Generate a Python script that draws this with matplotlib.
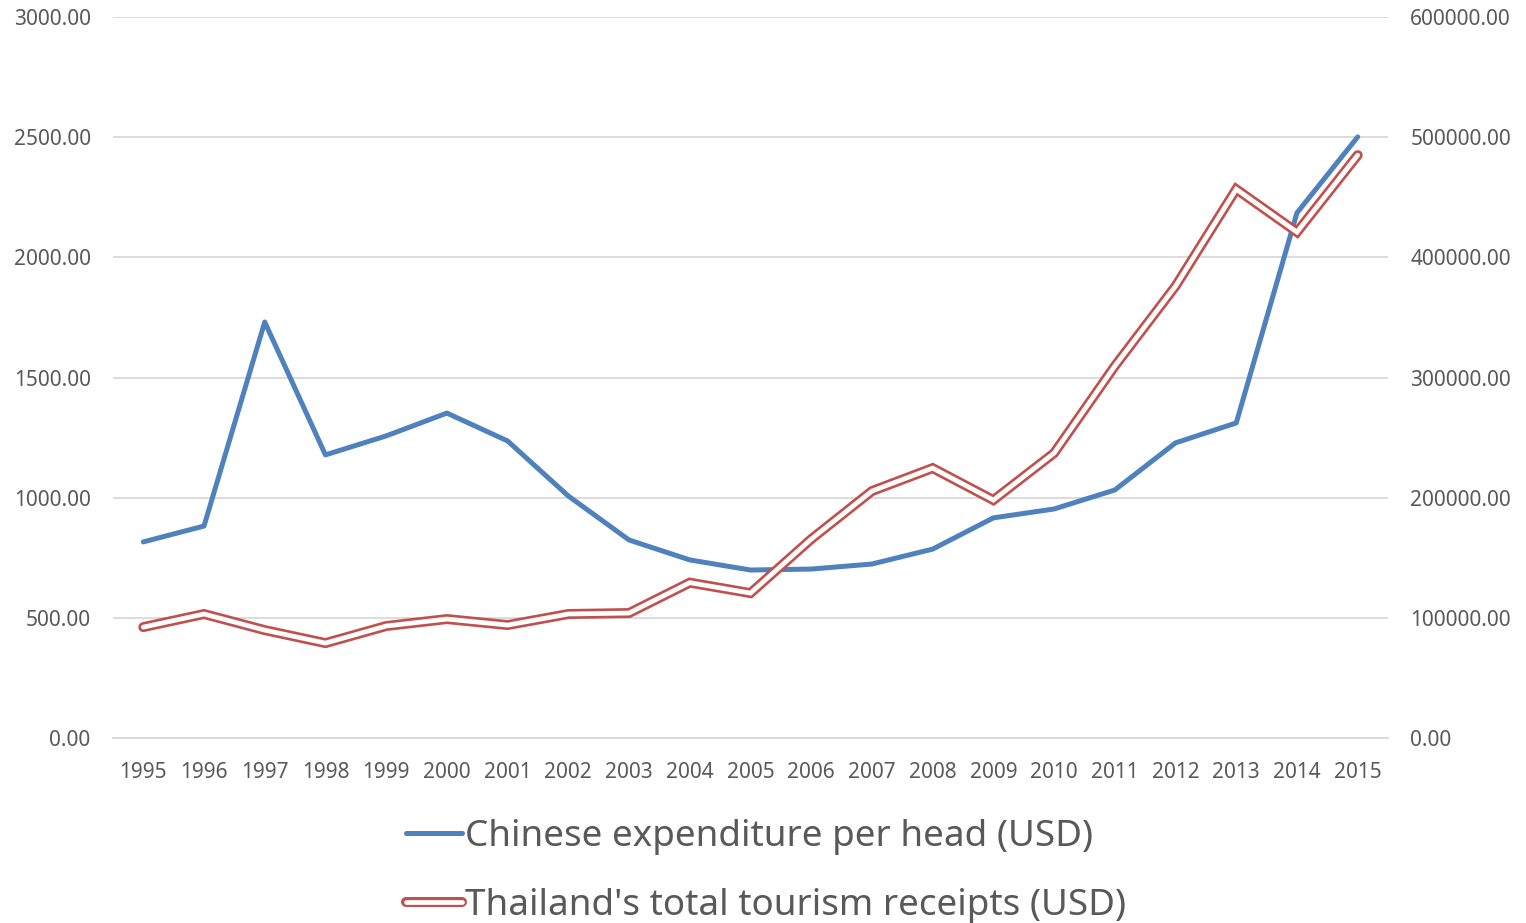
import matplotlib
matplotlib.use("Agg")
import matplotlib.pyplot as plt
from matplotlib.lines import Line2D
from matplotlib.ticker import FormatStrFormatter

# ── Data ──────────────────────────────────────────────────────────────────────
years = [1995, 1996, 1997, 1998, 1999, 2000, 2001, 2002, 2003, 2004, 2005,
         2006, 2007, 2008, 2009, 2010, 2011, 2012, 2013, 2014, 2015]

# Chinese expenditure per head (USD) - left axis
expenditure = [816, 882, 1731, 1178, 1257, 1352, 1236, 1007, 824, 741, 699,
               703, 724, 786, 916, 953, 1032, 1228, 1311, 2185, 2501]

# Thailand's total tourism receipts (USD) - right axis
receipts = [92300, 103200, 89800, 79000, 93200, 99000, 94000, 103200, 104000,
            129300, 120600, 165500, 205500, 224600, 198000, 237100, 309500,
            376000, 456700, 421000, 485000]

BLUE = "#4F81BD"
RED = "#C0504D"
GRID = "#D9D9D9"
TEXT = "#595959"

plt.rcParams["font.family"] = ["Noto Sans", "DejaVu Sans"]

fig = plt.figure(figsize=(15.26, 9.23), dpi=100)
ax = fig.add_axes([0.074, 0.2004, 0.8356, 0.7812])
ax2 = ax.twinx()

x = list(range(len(years)))

# left axis: blue line
ax.plot(x, expenditure, color=BLUE, lw=3.6, solid_capstyle="round",
        solid_joinstyle="round", zorder=3)

# right axis: red "double" line (thick red with thin white core)
ax2.plot(x, receipts, color=RED, lw=7.2, solid_capstyle="round",
         solid_joinstyle="miter", zorder=3)
ax2.plot(x, receipts, color="white", lw=3.4, solid_capstyle="round",
         solid_joinstyle="miter", zorder=4)

ax.set_xlim(-0.5, len(years) - 0.5)
ax.set_ylim(0, 3000)
ax2.set_ylim(0, 600000)
ax.set_yticks(range(0, 3001, 500))
ax2.set_yticks(range(0, 600001, 100000))
ax.yaxis.set_major_formatter(FormatStrFormatter("%.2f"))
ax2.yaxis.set_major_formatter(FormatStrFormatter("%.2f"))
ax.set_xticks(x)
ax.set_xticklabels([str(y) for y in years])

ax.grid(axis="y", color=GRID, lw=1.3)
ax.set_axisbelow(True)
for a in (ax, ax2):
    for s in a.spines.values():
        s.set_visible(False)
ax.spines["bottom"].set_visible(True)
ax.spines["bottom"].set_color(GRID)
ax.spines["bottom"].set_linewidth(1.3)

ax.tick_params(axis="y", length=0, pad=16, labelsize=15, labelcolor=TEXT)
ax2.tick_params(axis="y", length=0, pad=16, labelsize=15, labelcolor=TEXT)
ax.tick_params(axis="x", length=0, pad=17, labelsize=15, labelcolor=TEXT)

# ── Legend below the plot ─────────────────────────────────────────────────────
h_blue = Line2D([], [], color=BLUE, lw=3.6, solid_capstyle="round")
h_red = (Line2D([], [], color=RED, lw=7.2, solid_capstyle="round"),
         Line2D([], [], color="white", lw=3.4, solid_capstyle="round"))
leg = fig.legend([h_blue, h_red],
                 ["Chinese expenditure per head (USD)",
                  "Thailand's total tourism receipts (USD)"],
                 loc="upper center", bbox_to_anchor=(0.502, 0.133),
                 ncol=1, frameon=False, fontsize=26.5, handlelength=1.5,
                 handletextpad=0.08, labelspacing=0.9, borderpad=0)
for t in leg.get_texts():
    t.set_color(TEXT)

fig.savefig("out.png", dpi=100)
